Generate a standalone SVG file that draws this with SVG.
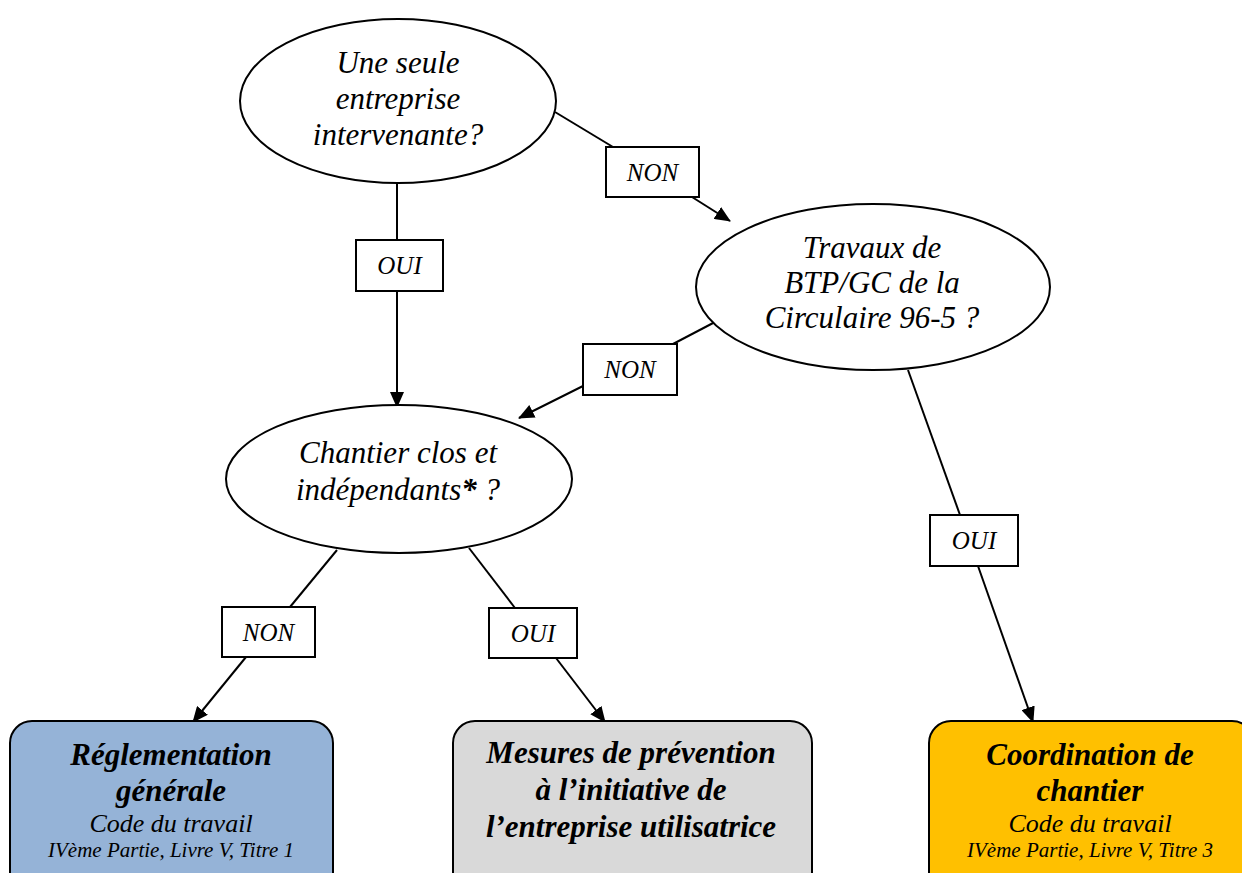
<svg xmlns="http://www.w3.org/2000/svg" width="1242" height="873" viewBox="0 0 1242 873">
<style>
.q{fill:#fff;stroke:#000;stroke-width:2}
.lb{fill:#fff;stroke:#000;stroke-width:2}
.box{stroke:#000;stroke-width:2}
.t{font-family:"Liberation Serif",serif;font-style:italic;fill:#000;text-anchor:middle}
.qt{font-size:31px}
.lt{font-size:25px}
.bt{font-size:31px;font-weight:bold}
.st{font-size:26px}
.ft{font-size:21px}
.c{stroke:#000;stroke-width:2;fill:none}
.a{marker-end:url(#arr)}
</style>
<defs>
<marker id="arr" markerUnits="userSpaceOnUse" markerWidth="16" markerHeight="14" refX="15" refY="7" orient="auto">
<path d="M0,0 L16,7 L0,14 z" fill="#000"/>
</marker>
</defs>
<g id="connectors">
<line class="c" x1="397" y1="183" x2="397" y2="240"/>
<line class="c a" x1="397" y1="291" x2="397" y2="407"/>
<line class="c" x1="555" y1="112" x2="613" y2="147"/>
<line class="c a" x1="692" y1="197" x2="730" y2="221"/>
<line class="c" x1="715" y1="322" x2="673" y2="344"/>
<line class="c a" x1="583" y1="386" x2="519" y2="418"/>
<line class="c" x1="908" y1="370" x2="960" y2="515"/>
<line class="c a" x1="978" y1="566" x2="1033" y2="722"/>
<line class="c" x1="337" y1="550" x2="290" y2="607"/>
<line class="c a" x1="246" y1="657" x2="193" y2="722"/>
<line class="c" x1="469" y1="548" x2="515" y2="608"/>
<line class="c a" x1="556" y1="658" x2="605" y2="722"/>
</g>
<g id="q1">
<ellipse class="q" cx="398" cy="101" rx="158" ry="82"/>
<text class="t qt" x="398" y="73">Une seule</text>
<text class="t qt" x="398" y="109">entreprise</text>
<text class="t qt" x="398" y="145">intervenante?</text>
</g>
<g id="q2">
<ellipse class="q" cx="873" cy="287" rx="177" ry="83"/>
<text class="t qt" x="872" y="258">Travaux de</text>
<text class="t qt" x="872" y="293">BTP/GC de la</text>
<text class="t qt" x="872" y="328">Circulaire 96-5 ?</text>
</g>
<g id="q3">
<ellipse class="q" cx="399" cy="479" rx="173" ry="74"/>
<text class="t qt" x="398" y="463">Chantier clos et</text>
<text class="t qt" x="398" y="500">indépendants<tspan font-weight="bold">*</tspan> ?</text>
</g>
<g id="l-non1">
<rect class="lb" x="606" y="147" width="93" height="50"/>
<text class="t lt" x="652.5" y="181">NON</text>
</g>
<g id="l-oui1">
<rect class="lb" x="356" y="240" width="87" height="51"/>
<text class="t lt" x="399.5" y="274">OUI</text>
</g>
<g id="l-non2">
<rect class="lb" x="583" y="344" width="94" height="51"/>
<text class="t lt" x="630" y="378">NON</text>
</g>
<g id="l-oui2">
<rect class="lb" x="930" y="515" width="88" height="51"/>
<text class="t lt" x="974" y="549">OUI</text>
</g>
<g id="l-non3">
<rect class="lb" x="222" y="607" width="93" height="50"/>
<text class="t lt" x="268.5" y="641">NON</text>
</g>
<g id="l-oui3">
<rect class="lb" x="489" y="608" width="88" height="50"/>
<text class="t lt" x="533" y="642">OUI</text>
</g>
<g id="r1">
<rect class="box" x="10" y="721" width="323" height="175" rx="22" fill="#95b3d7"/>
<text class="t bt" x="171" y="765">Réglementation</text>
<text class="t bt" x="171" y="801">générale</text>
<text class="t st" x="171" y="832">Code du travail</text>
<text class="t ft" x="171" y="857">IVème Partie, Livre V, Titre 1</text>
</g>
<g id="r2">
<rect class="box" x="453" y="721" width="359" height="175" rx="22" fill="#d9d9d9"/>
<text class="t bt" x="631" y="763">Mesures de prévention</text>
<text class="t bt" x="631" y="800">à l’initiative de</text>
<text class="t bt" x="631" y="837">l’entreprise utilisatrice</text>
</g>
<g id="r3">
<rect class="box" x="929" y="721" width="325" height="175" rx="22" fill="#ffc000"/>
<text class="t bt" x="1090" y="765">Coordination de</text>
<text class="t bt" x="1090" y="801">chantier</text>
<text class="t st" x="1090" y="832">Code du travail</text>
<text class="t ft" x="1090" y="857">IVème Partie, Livre V, Titre 3</text>
</g>
</svg>
